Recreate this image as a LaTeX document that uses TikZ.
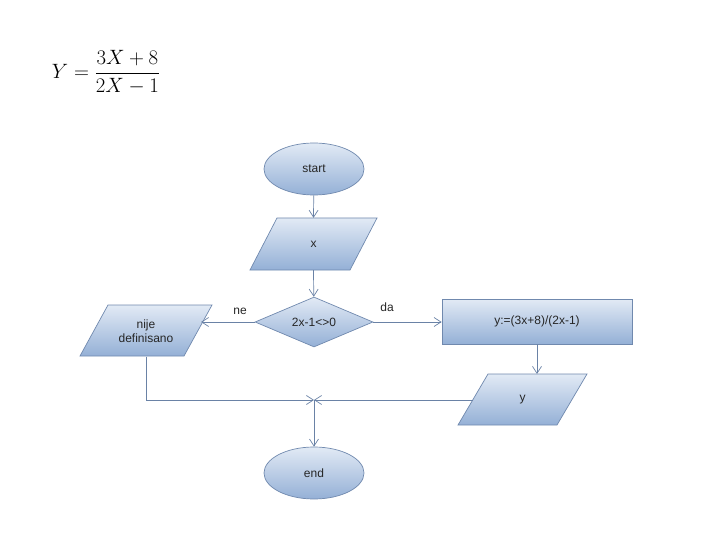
\documentclass[tikz,border=0pt]{standalone}
\usepackage{fontspec}
\setmainfont{Liberation Sans}
\usetikzlibrary{shapes.geometric,arrows.meta,calc}
\definecolor{ftop}{HTML}{E2EAF5}
\definecolor{fbot}{HTML}{94B0D6}
\definecolor{edgec}{HTML}{7089AE}
\definecolor{connc}{HTML}{6A82A6}
\begin{document}
\begin{tikzpicture}[x=1pt,y=-1pt,
  fillsty/.style={draw=edgec, line width=0.7pt, top color=ftop, bottom color=fbot},
  txt/.style={font=\fontsize{12}{13.5}\selectfont, text=black!85, inner sep=0pt, align=center},
  box/.style={fillsty, txt},
  term/.style={box, ellipse, minimum width=100pt, minimum height=52pt},
  iobox/.style={txt, rectangle, draw=none},
  decis/.style={box, diamond, aspect=2.36, minimum width=118pt, minimum height=50pt},
  proc/.style={box, rectangle, minimum width=190pt, minimum height=45pt},
  conn/.style={draw=connc, line width=0.7pt, -{Straight Barb[length=7pt,width=9pt]}},
  lbl/.style={font=\fontsize{12}{14}\selectfont, text=black!85}
]
\useasboundingbox (0,0) rectangle (720,540);
\node (formula) at (106,72) {\fontsize{20}{22}\selectfont $\displaystyle Y=\frac{3X+8}{2X-1}$};

% input/output parallelograms
\path[fillsty] (277,218) -- (377,218) -- (350,270) -- (250,270) -- cycle;
\path[fillsty] (108,305) -- (212,305) -- (184,356) -- (80,356) -- cycle;
\path[fillsty] (488,374) -- (587,374) -- (557,425) -- (458,425) -- cycle;

\node[term] (start) at (314,169) {\raisebox{-1.5pt}{start}};
\node[iobox, minimum width=127pt, minimum height=52pt] (x) at (313.5,244) {\raisebox{-3pt}{x}};
\node[decis] (dec) at (314,322) {\raisebox{-1pt}{2x-1<>0}};
\node[proc] (pr) at (537,321.5) {y:=(3x+8)/(2x-1)};
\node[iobox, minimum width=132pt, minimum height=51pt] (nije) at (146,331) {\raisebox{-3pt}{\shortstack{nije\\definisano}}};
\node[iobox, minimum width=129pt, minimum height=51pt] (yout) at (522.5,400) {\raisebox{-3pt}{y}};
\node[term] (end) at (314,473) {end};
\coordinate (m) at (314,400);
\coordinate (nijein) at (201,322);
\coordinate (youtw) at (473,400);
\coordinate (youtn) at (537,374);

\node[lbl] (ne) at (240,311) {ne};
\node[lbl] (da) at (387,307) {da};

\draw[conn] (start) -- (x.north);
\draw[conn] (x.south) -- (dec);
\draw[conn] (dec.west) -- (nijein);
\draw[conn] (dec.east) -- (pr.west |- dec.east);
\draw[conn] (pr.south) -- (youtn);
\draw[conn] (nije.south) -- (nije.south |- m) -- (m);
\draw[conn] (youtw) -- (m);
\draw[conn] (m) -- (end.north);
\end{tikzpicture}
\end{document}
